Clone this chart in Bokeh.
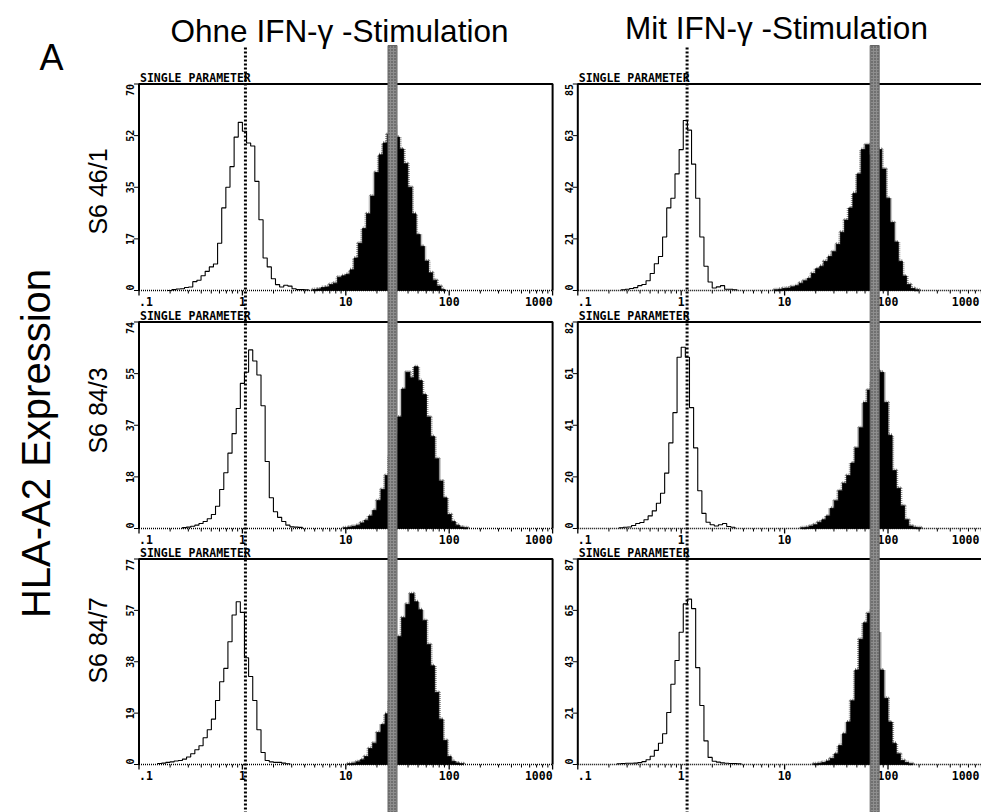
import numpy as np
from bokeh.plotting import figure
from bokeh.models import Range1d, LogScale, LinearScale, CoordinateMapping
from bokeh.plotting.glyph_api import GlyphAPI
from bokeh.core.properties import value
from bokeh.embed import file_html
from bokeh.resources import INLINE

# ---------------- data ----------------
panel_letter = "A"
col_titles = ["Ohne IFN-\u03b3 -Stimulation", "Mit IFN-\u03b3 -Stimulation"]
row_labels = ["S6 46/1", "S6 84/3", "S6 84/7"]
y_title = "HLA-A2 Expression"
header_text = "SINGLE PARAMETER"

x_tick_values = [0.1, 1, 10, 100, 1000]
x_tick_labels = [".1", "1", "10", "100", "1000"]

# y maximum (counts) per [row][col]
y_max = [[70, 85], [74, 82], [77, 87]]
y_tick_labels = [
    [["0", "17", "35", "52", "70"], ["0", "21", "42", "63", "85"]],
    [["0", "18", "37", "55", "74"], ["0", "20", "41", "61", "82"]],
    [["0", "19", "38", "57", "77"], ["0", "21", "43", "65", "87"]],
]

# marker positions (fluorescence intensity) per column
gate_neg = [1.07, 1.14]
gate_pos = [28.3, 74.3]

# histogram bins: width in decades, first bin centre (log10) per panel
bin_step = 0.04
open_start = [[-0.70, -0.56], [-0.56, -0.58], [-0.80, -0.60]]
open_counts = [
    [[0, 0.3, 0.5, 0.6, 1.0, 1.2, 3, 3.5, 5, 6.5, 8, 9, 16, 28, 35, 42, 52, 57, 54, 50, 49, 37, 24, 11, 8, 4, 2, 1.2, 1.8, 1.5, 0.6, 0.3, 0.3, 0.2],
     [0.3, 0.5, 0.8, 1.2, 2, 2.5, 4, 7, 11, 14, 22, 34, 38, 48, 58, 70, 66, 52, 38, 22, 10, 3.5, 1, 1.5, 2, 0.5, 0.5, 0.3]],
    [[0.3, 0.5, 0.8, 1.2, 1.8, 2.5, 3.5, 5, 8, 14, 20, 27, 34, 43, 52, 56, 64, 60, 55, 44, 24, 11, 6, 4, 2.5, 1.2, 0.6, 0.5, 0.4],
     [0.3, 0.5, 0.6, 1.2, 2, 2.4, 3.5, 5, 7, 10, 14, 22, 34, 46, 68, 72, 68, 48, 32, 15, 6, 2.5, 1.5, 1, 1.5, 2, 0.8, 0.5]],
    [[0.4, 0.5, 0.8, 1, 1.3, 1.5, 2, 2.8, 4, 5.5, 7, 10, 13, 17, 24, 31, 36, 46, 56, 61, 57, 40, 33, 24, 13, 4.5, 1.5, 1, 0.8, 0.8, 0.5, 0.3],
     [0.3, 0.4, 0.5, 0.5, 0.6, 0.8, 1.2, 2, 3.5, 6, 9, 13, 22, 34, 44, 56, 68, 70, 66, 41, 25, 10, 3, 1.4, 1, 0.7, 0.5, 0.4, 0.4, 0.3]],
]
filled_start = [[0.70, 0.92], [1.00, 1.18], [1.04, 1.30]]
filled_counts = [
    [[0.3, 0.5, 1, 1.2, 2, 2.5, 4.5, 5, 5.5, 7, 11, 16, 21, 26, 32, 40, 46, 50, 53, 56, 52, 48, 43, 35, 26, 19, 15, 10, 6, 3.5, 1.5, 0.3],
     [0.3, 0.5, 0.8, 1, 1.5, 2, 3, 4, 5, 7, 9, 10, 12, 14, 16, 19, 24, 29, 34, 40, 48, 58, 60, 56, 55, 58, 50, 38, 28, 20, 12, 6, 2.5, 0.8, 0.3]],
    [[0.3, 0.5, 0.8, 1.2, 2, 3, 4.5, 6.5, 10, 14, 19, 26, 34, 40, 50, 56, 54, 58, 53, 48, 40, 33, 25, 17, 11, 5, 2.5, 1.2, 0.5, 0.3],
     [0.3, 0.5, 1, 1.5, 2.5, 3.5, 5, 8, 11, 15, 18, 21, 26, 32, 40, 50, 55, 58, 63, 62, 50, 37, 23, 16, 9, 3.5, 1, 0.5, 0.3]],
    [[0.3, 0.5, 1, 1.8, 3, 6, 8, 12, 15, 19, 24, 37, 48, 55, 60, 64, 61, 58, 54, 45, 37, 27, 17, 9, 3, 1.2, 0.6, 0.3],
     [0.3, 0.5, 0.8, 1.5, 2.5, 4.5, 8, 13, 18, 27, 40, 53, 60, 64, 66, 56, 40, 28, 18, 9, 4.5, 1.7, 0.8, 0.3]],
]

# ---------------- layout (canvas pixels) ----------------
W, H = 981, 812
col_left = [138.5, 577.3]
decade_px = 103.4
row_top = [83.5, 321.5, 558.5]
row_base = [290.0, 528.0, 764.0]

MONO = value("DejaVu Sans Mono")
SANS = value("Liberation Sans")

p = figure(width=W, height=H, x_range=Range1d(0, W), y_range=Range1d(H, 0),
           x_axis_location=None, y_axis_location=None, toolbar_location=None,
           output_backend="svg", min_border=0, outline_line_color=None,
           background_fill_color="white", border_fill_color="white")
p.grid.visible = False


def mapping(xs, xt, ys, yt, xlog=False):
    cm = CoordinateMapping(x_source=xs, y_source=ys,
                           x_scale=LogScale() if xlog else LinearScale(),
                           y_scale=LinearScale(), x_target=xt, y_target=yt)
    return GlyphAPI(p, cm)


def edges(start, n):
    lg = start - bin_step / 2 + bin_step * np.arange(n + 1)
    return 10 ** lg


def outline(e, c):
    xs, ys = [e[0]], [0]
    for i, v in enumerate(c):
        xs += [e[i], e[i + 1]]
        ys += [v, v]
    xs.append(e[-1]); ys.append(0)
    return xs, ys


minor_ticks = [k * 10.0 ** d for d in range(-1, 3) for k in range(2, 10)]

col_maps = []
for c in range(2):
    xt = Range1d(col_left[c], col_left[c] + 4 * decade_px)
    col_maps.append(mapping(Range1d(0.1, 1000), xt, Range1d(0, H), Range1d(0, H), xlog=True))

for r in range(3):
    for c in range(2):
        ym_ = y_max[r][c]
        xt = Range1d(col_left[c], col_left[c] + 4 * decade_px)
        yt = Range1d(row_base[r], row_top[r])
        pm = mapping(Range1d(0.1, 1000), xt, Range1d(0, ym_), yt, xlog=True)
        ymap = mapping(Range1d(0, W), Range1d(0, W), Range1d(0, ym_),
                       Range1d(row_base[r], row_top[r]))
        cx = col_maps[c]

        # filled (stained) histogram
        fc = filled_counts[r][c]
        fe = edges(filled_start[r][c], len(fc))
        gx, gy = outline(list(fe), fc)
        pm.line(gx, gy, line_color="#8c8c8c", line_width=4, line_dash="1 1")
        pm.patch(gx, gy, fill_color="black", line_color="black", line_width=0.8)

        # open (control) histogram
        oc = open_counts[r][c]
        oe = edges(open_start[r][c], len(oc))
        ox, oy = outline(list(oe), oc)
        pm.line(ox, oy, line_color="black", line_width=1.1)

        # frame
        pm.line([0.1, 0.1, 1000, 1000], [0, ym_, ym_, 0], line_color="black", line_width=2)
        pm.line([0.1, 1000], [0, 0], line_color="black", line_width=1.5, line_dash="1 1")

        # x ticks
        base = row_base[r]
        cx.segment(x0=x_tick_values, x1=x_tick_values, y0=[base] * 5, y1=[base + 5] * 5,
                   line_color="black", line_width=1.3)
        cx.segment(x0=minor_ticks, x1=minor_ticks, y0=[base] * len(minor_ticks),
                   y1=[base + 3] * len(minor_ticks), line_color="black", line_width=1)
        aligns = ["left", "center", "center", "center", "right"]
        for k, (tv, tl, al) in enumerate(zip(x_tick_values, x_tick_labels, aligns)):
            xoff = -12 if (c == 1 and k == 4) else 0
            cx.text(x=[tv], y=[base + 11], text=[tl], x_offset=xoff, text_font=MONO,
                    text_font_size="11.5px", text_font_style="bold", text_align=al,
                    text_baseline="middle", text_color="black")

        # y ticks
        yv = [ym_ * k / 4 for k in range(5)]
        fl = col_left[c]
        ymap.segment(x0=[fl - 5] * 5, x1=[fl] * 5, y0=yv, y1=yv, line_color="black", line_width=1)
        yal = ["left", "center", "center", "center", "right"]
        for v, tl, al in zip(yv, y_tick_labels[r][c], yal):
            ymap.text(x=[fl - 9], y=[v], text=[tl], angle=np.pi / 2, text_font=MONO,
                      text_font_size="10px", text_font_style="bold", text_align=al,
                      text_baseline="middle", text_color="black")

        # header
        p.text(x=[fl + 1], y=[row_top[r] - 6], text=[header_text], text_font=MONO,
               text_font_size="11.5px", text_font_style="bold", text_align="left",
               text_baseline="middle", text_color="black")

# marker lines spanning the whole column
for c in range(2):
    cx = col_maps[c]
    cx.rect(x=[gate_pos[c]], y=[(45 + H) / 2], width=9, width_units="screen", height=H - 45,
            fill_color="#8e8e8e", line_color="#666666", line_width=1,
            hatch_pattern="dot", hatch_color="#404040", hatch_scale=3, hatch_weight=1.2)
    cx.segment(x0=[gate_neg[c]], x1=[gate_neg[c]], y0=[47], y1=[H], line_color="black",
               line_width=3, line_dash="2 2")

# titles and labels
p.text(x=[339, 776], y=[30, 27], text=col_titles, text_font=SANS, text_font_size="31.5px",
       text_align="center", text_baseline="middle", text_color="black")
p.text(x=[51], y=[57], text=[panel_letter], text_font=SANS, text_font_size="36px",
       text_align="center", text_baseline="middle", text_color="black")
p.text(x=[35], y=[443], text=[y_title], angle=np.pi / 2, text_font=SANS,
       text_font_size="40px", text_align="center", text_baseline="middle", text_color="black")
p.text(x=[97, 97, 97], y=[191, 410, 640], text=row_labels, angle=np.pi / 2, text_font=SANS,
       text_font_size="25px", text_align="center", text_baseline="middle", text_color="black")

open("out.html", "w").write(file_html(p, INLINE))
